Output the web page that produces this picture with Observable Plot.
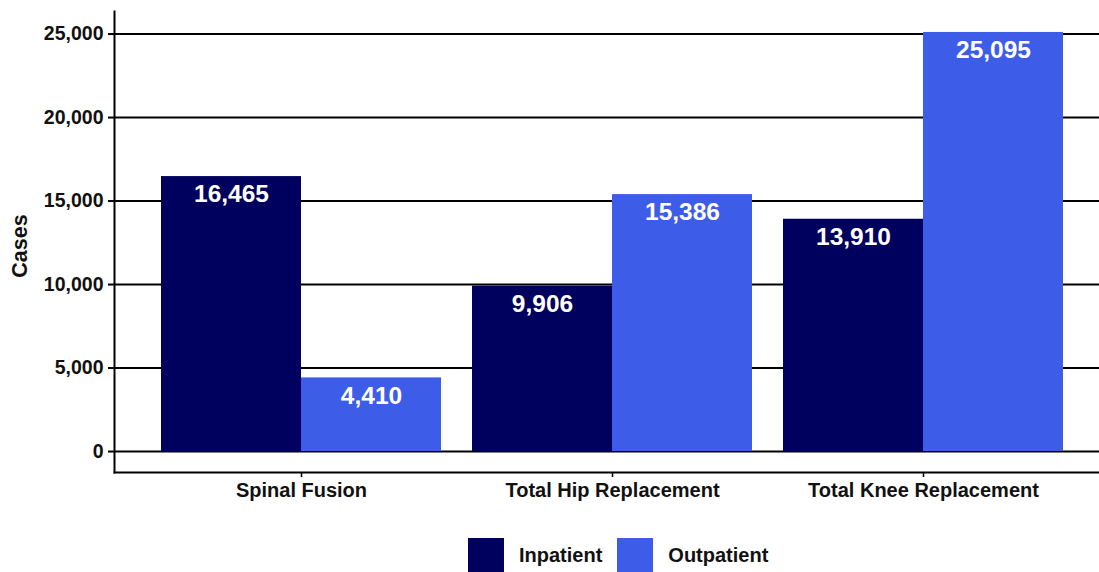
<!DOCTYPE html>
<html>
<head>
<meta charset="utf-8">
<script src="https://cdn.jsdelivr.net/npm/d3@7"></script>
<script src="https://cdn.jsdelivr.net/npm/@observablehq/plot@0.6"></script>
<style>
  html, body { margin: 0; padding: 0; background: #fff; }
  body { width: 1099px; height: 572px; overflow: hidden; font-family: "Liberation Sans", Arial, sans-serif; position: relative; }
  #legend { position: absolute; left: 468px; top: 538px; display: flex; align-items: center; font-weight: bold; font-size: 20px; color: #111; }
  .sw { width: 36px; height: 34px; display: inline-block; margin-right: 15px; }
  .item { display: flex; align-items: center; margin-right: 15px; }
</style>
</head>
<body>
<div id="chart"></div>
<div id="legend"></div>
<script>
const categories = ["Spinal Fusion", "Total Hip Replacement", "Total Knee Replacement"];
const seriesNames = ["Inpatient", "Outpatient"];
const inpatient = [16465, 9906, 13910];
const outpatient = [4410, 15386, 25095];
const yTicks = [0, 5000, 10000, 15000, 20000, 25000];
const colors = ["#00005E", "#3D5DE8"];

const inData = categories.map((c, i) => ({category: c, value: inpatient[i]}));
const outData = categories.map((c, i) => ({category: c, value: outpatient[i]}));

const fmt = d3.format(",");
const font = "Liberation Sans, Arial, sans-serif";

const plot = Plot.plot({
  width: 1099,
  height: 530,
  marginLeft: 114,
  marginRight: 0,
  marginTop: 11,
  marginBottom: 58,
  style: {fontFamily: font, background: "#fff", overflow: "hidden"},
  x: {domain: categories, range: [114, 1110], paddingInner: 0.1, paddingOuter: 0.15, label: null},
  y: {domain: [-1255, 26350], label: null},
  marks: [
    Plot.ruleY(yTicks, {stroke: "#000", strokeWidth: 2}),
    Plot.barY(inData, {x: "category", y1: 0, y2: "value", fill: colors[0], insetRight: 140}),
    Plot.barY(outData, {x: "category", y1: 0, y2: "value", fill: colors[1], insetLeft: 140}),
    Plot.text(inData, {x: "category", y: "value", text: d => fmt(d.value), dx: -70, dy: 18, fill: "white", fontWeight: "bold", fontSize: 24.5}),
    Plot.text(outData, {x: "category", y: "value", text: d => fmt(d.value), dx: 70, dy: 18, fill: "white", fontWeight: "bold", fontSize: 24.5}),
    Plot.axisY({ticks: yTicks, tickFormat: fmt, tickSize: 6, tickPadding: 5, fontSize: 19.5, fontWeight: "bold", stroke: "#000", strokeWidth: 2, label: null, fill: "#111"}),
    Plot.axisX({tickSize: 5, tickPadding: 5, fontSize: 20, fontWeight: "bold", stroke: "#000", strokeWidth: 1.5, label: null, fill: "#111"}),
    Plot.frame({anchor: "left", stroke: "#000", strokeWidth: 2}),
    Plot.frame({anchor: "bottom", stroke: "#000", strokeWidth: 2}),
    Plot.text(["Cases"], {frameAnchor: "left", textAnchor: "middle", dx: -94, dy: 4, rotate: -90, fontSize: 21.5, fontWeight: "bold", fill: "#111"})
  ]
});
document.getElementById("chart").appendChild(plot);

const legend = document.getElementById("legend");
seriesNames.forEach((name, i) => {
  const item = document.createElement("div");
  item.className = "item";
  const sw = document.createElement("span");
  sw.className = "sw";
  sw.style.background = colors[i];
  item.appendChild(sw);
  const t = document.createElement("span");
  t.textContent = name;
  item.appendChild(t);
  legend.appendChild(item);
});
</script>
</body>
</html>
